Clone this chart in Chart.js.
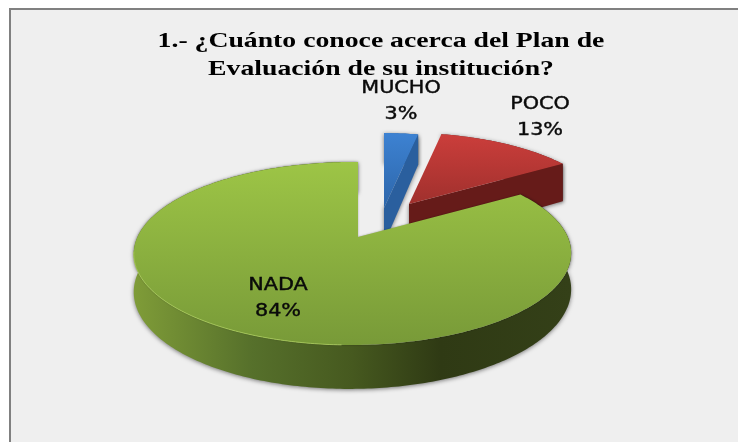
<!DOCTYPE html>
<html>
<head>
<meta charset="utf-8">
<title>Plan de Evaluación</title>
<script src="https://cdn.jsdelivr.net/npm/chart.js@4"></script>
<style>
html,body{margin:0;padding:0;background:#fff;overflow:hidden;}
#frame{position:absolute;left:9px;top:8px;width:729px;height:434px;box-sizing:border-box;background:#efefef;border-top:2px solid #808080;border-left:2px solid #808080;}
#c{position:absolute;left:0;top:0;}
</style>
</head>
<body>
<div id="frame"></div>
<canvas id="c" width="738" height="442"></canvas>
<script>
/* Data */
var categories = ['MUCHO', 'POCO', 'NADA'];
var percents = [3, 13, 84];
var titleLines = ['1.- ¿Cuánto conoce acerca del Plan de', 'Evaluación de su institución?'];

/* Look of the 3D pie */
var TOP_COLORS = [['#3d82d2', '#2d66aa'], ['#cb3e3b', '#a0302d'], ['#9dc546', '#789a38']];
var CUT_COLORS = ['#2a5f9e', '#661b19', '#46591f'];
var WALL_STOPS = [[0, '#7f9c38'], [0.27, '#56702b'], [0.5, '#46591f'], [0.7, '#2f3a14'], [1, '#344018']];
// where each exploded slice has its tip, radius factor and wall height factor
var SLICE_POS = [{x:384, y:208, r:1, d:1}, {x:409, y:204, r:0.94, d:1.15}, {x:358, y:237, r:1, d:1}];
var LABEL_POS = [{x:401, y:89}, {x:540, y:105}, {x:278, y:286}];
var LABEL_GAP = 26;
var TITLE_STRETCH = 1.32, TITLE_CENTRE = 381;
// perspective of the disc
var RX = 215, RY = 88.5, DEPTH = 36, K = 0.18, M = -0.025;

function project(s, theta, depth){
  var u = s.r*Math.sin(theta), v = -s.r*Math.cos(theta);
  var w = 1 - K*v - M*u;
  return {x: s.x + RX*u/w, y: s.y + (RY*v + DEPTH*depth*s.d)/w};
}

function arcPoints(s, a0, a1, depth){
  var pts = [], n = Math.max(2, Math.ceil((a1-a0)/0.015));
  for(var i=0;i<=n;i++) pts.push(project(s, a0 + (a1-a0)*i/n, depth));
  return pts;
}

function fillPoly(ctx, pts, style){
  ctx.beginPath();
  pts.forEach(function(p, i){ if(i) ctx.lineTo(p.x, p.y); else ctx.moveTo(p.x, p.y); });
  ctx.closePath();
  ctx.fillStyle = style;
  ctx.fill();
}

var pie3d = {
  id: 'pie3d',
  beforeDraw: function(chart){
    // the title in the picture is stretched sideways, title box draws before the datasets
    var ctx = chart.ctx;
    ctx.save();
    ctx.translate(TITLE_CENTRE, 0);
    ctx.scale(TITLE_STRETCH, 1);
    ctx.translate(-TITLE_CENTRE, 0);
  },
  beforeDatasetsDraw: function(chart){
    var ctx = chart.ctx;
    ctx.restore();
    chart.getDatasetMeta(0).data.forEach(function(arc, i){
      var s = SLICE_POS[i];
      // chart.js angles start at -PI/2 (12 o'clock)
      var a0 = arc.startAngle + Math.PI/2, a1 = arc.endAngle + Math.PI/2;
      var centre = {x:s.x, y:s.y, r:0, d:s.d};
      var tip = project(centre, 0, 0), tipLow = project(centre, 0, 1);
      var top = arcPoints(s, a0, a1, 0), low = arcPoints(s, a0, a1, 1);

      ctx.save();
      ctx.shadowColor = 'rgba(0,0,0,0.5)';
      ctx.shadowBlur = 4;
      ctx.shadowOffsetY = 1;
      // outer wall
      var wall = ctx.createLinearGradient(134, 0, 571, 0);
      WALL_STOPS.forEach(function(st){ wall.addColorStop(st[0], st[1]); });
      fillPoly(ctx, top.concat(low.slice().reverse()), i === 2 ? wall : CUT_COLORS[i]);
      // cut face on the clockwise side, red and blue show it
      if(i < 2){
        fillPoly(ctx, [tip, top[top.length-1], low[low.length-1], tipLow], CUT_COLORS[i]);
      }
      ctx.restore();

      // top face
      var ys = top.map(function(p){ return p.y; }).concat(tip.y);
      var g = ctx.createLinearGradient(0, Math.min.apply(null, ys), 0, Math.max.apply(null, ys));
      g.addColorStop(0, TOP_COLORS[i][0]);
      g.addColorStop(1, TOP_COLORS[i][1]);
      ctx.save();
      if(i === 2){ ctx.shadowColor = 'rgba(0,0,0,0.35)'; ctx.shadowBlur = 2; }
      fillPoly(ctx, [tip].concat(top), g);
      ctx.restore();

      // light rim along the lower left of the big slice
      if(i === 2){
        ctx.save();
        ctx.beginPath();
        arcPoints(s, Math.PI*1.02, Math.PI*1.45, 0).forEach(function(p, j){
          if(j) ctx.lineTo(p.x, p.y); else ctx.moveTo(p.x, p.y);
        });
        ctx.strokeStyle = 'rgba(172,208,90,0.8)';
        ctx.lineWidth = 1;
        ctx.stroke();
        ctx.restore();
      }
    });
    return false;
  },
  afterDraw: function(chart){
    var ctx = chart.ctx;
    ctx.save();
    ctx.fillStyle = '#0a0a0a';
    ctx.strokeStyle = '#0a0a0a';
    ctx.lineWidth = 0.4;
    ctx.textAlign = 'center';
    ctx.textBaseline = 'middle';
    ctx.font = '17px "DejaVu Sans"';
    categories.forEach(function(name, i){
      var p = LABEL_POS[i];
      [name, percents[i] + '%'].forEach(function(t, j){
        ctx.save();
        ctx.translate(p.x, p.y + j*LABEL_GAP);
        ctx.scale(1.22, 1);
        ctx.fillText(t, 0, 0);
        ctx.strokeText(t, 0, 0);
        ctx.restore();
      });
    });
    ctx.restore();
  }
};

new Chart(document.getElementById('c'), {
  type: 'pie',
  data: {
    labels: categories,
    datasets: [{ data: percents, backgroundColor: ['#3d82d2', '#cb3e3b', '#9dc546'], borderWidth: 0 }]
  },
  options: {
    responsive: false,
    animation: false,
    layout: { padding: { left: 24, top: 28 } },
    plugins: {
      legend: { display: false },
      tooltip: { enabled: false },
      title: {
        display: true,
        text: titleLines,
        color: '#000',
        font: { family: '"Liberation Serif"', size: 21, weight: 'bold', lineHeight: 1.33 },
        padding: 0
      }
    }
  },
  plugins: [pie3d]
});
</script>
</body>
</html>
